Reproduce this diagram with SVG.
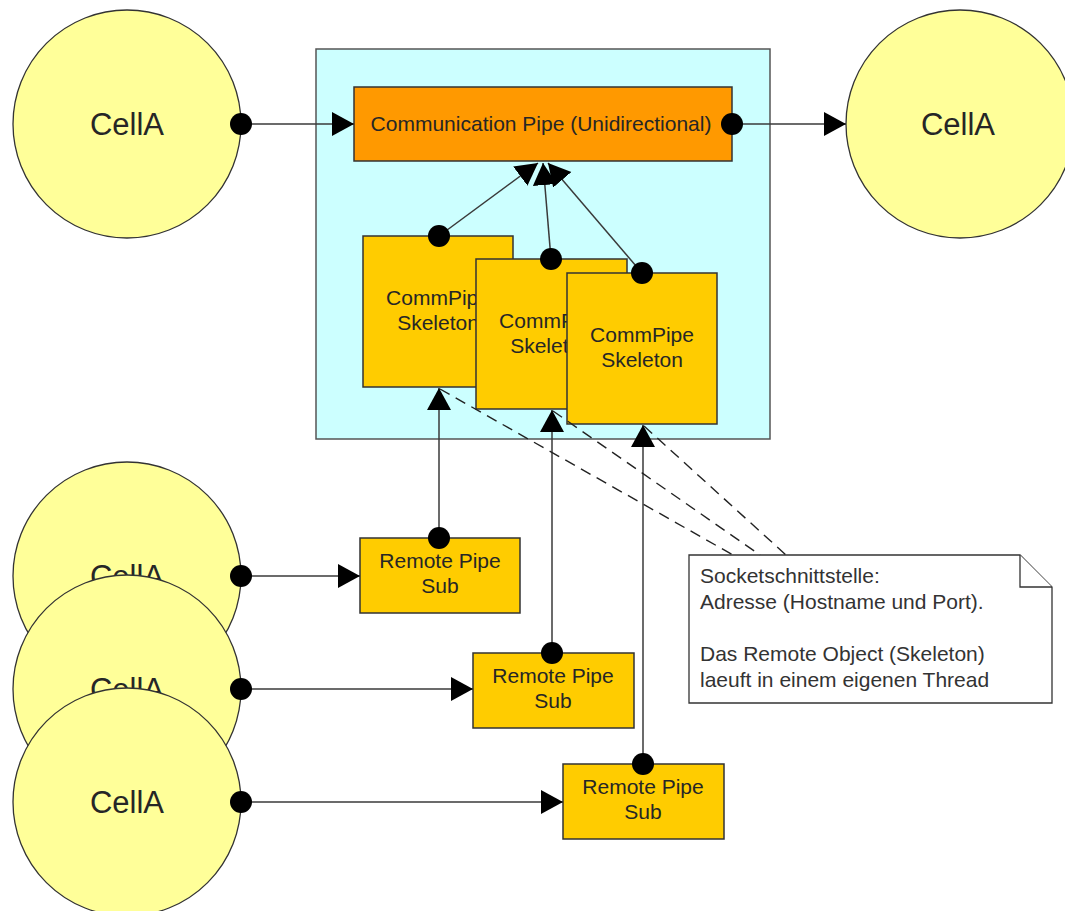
<svg xmlns="http://www.w3.org/2000/svg" width="1065" height="911" viewBox="0 0 1065 911">
  <defs>
    <style>
      text { font-family: "Liberation Sans", Arial, sans-serif; fill: #262626; }
      .cell { fill: #ffff99; stroke: #333; stroke-width: 1.3; }
      .cell-label { font-size: 31px; text-anchor: middle; }
      .box-label { font-size: 21px; text-anchor: middle; }
      .skeleton, .stub { fill: #ffcc00; stroke: #333; stroke-width: 1.5; }
      .pipe { fill: #ff9900; stroke: #333; stroke-width: 1.5; }
      .container { fill: #ccffff; stroke: #555; stroke-width: 1.5; }
      .note { fill: #ffffff; stroke: #333; stroke-width: 1.3; }
      .note-text { font-size: 21px; fill: #333; }
      .link { fill: none; stroke: #3a3a3a; stroke-width: 1.5; }
      .dashed { fill: none; stroke: #222; stroke-width: 1.4; stroke-dasharray: 11 7; }
      .port { fill: #000; }
    </style>
    <marker id="arrow" markerUnits="userSpaceOnUse" markerWidth="24" markerHeight="26" refX="22" refY="12" orient="auto">
      <path d="M0,0 L22,12 L0,24 Z" fill="#000"/>
    </marker>
  </defs>

  <!-- Pipe container -->
  <g id="pipe-container">
    <rect class="container" x="316" y="49" width="454" height="390"/>
  </g>

  <!-- Communication pipe -->
  <g id="comm-pipe">
    <rect class="pipe" x="354" y="87" width="378" height="74"/>
    <text class="box-label" x="541" y="131">Communication Pipe (Unidirectional)</text>
  </g>

  <!-- Skeletons (stacked) -->
  <g id="skeleton-1">
    <rect class="skeleton" x="363" y="236" width="150" height="151"/>
    <text class="box-label" x="438" y="305">CommPipe</text>
    <text class="box-label" x="438" y="330">Skeleton</text>
  </g>
  <g id="skeleton-2">
    <rect class="skeleton" x="476" y="259" width="151" height="150"/>
    <text class="box-label" x="551" y="328">CommPipe</text>
    <text class="box-label" x="551" y="353">Skeleton</text>
  </g>
  <g id="skeleton-3">
    <rect class="skeleton" x="567" y="273" width="150" height="151"/>
    <text class="box-label" x="642" y="342">CommPipe</text>
    <text class="box-label" x="642" y="367">Skeleton</text>
  </g>

  <!-- Cells -->
  <g id="cell-source">
    <circle class="cell" cx="127" cy="124" r="114"/>
    <text class="cell-label" x="127" y="135">CellA</text>
  </g>
  <g id="cell-target">
    <circle class="cell" cx="960" cy="124" r="114"/>
    <text class="cell-label" x="958" y="135">CellA</text>
  </g>
  <g id="cell-1">
    <circle class="cell" cx="127" cy="576" r="114"/>
    <text class="cell-label" x="127" y="587">CellA</text>
  </g>
  <g id="cell-2">
    <circle class="cell" cx="127" cy="689" r="114"/>
    <text class="cell-label" x="127" y="700">CellA</text>
  </g>
  <g id="cell-3">
    <circle class="cell" cx="127" cy="802" r="114"/>
    <text class="cell-label" x="127" y="813">CellA</text>
  </g>

  <!-- Remote stubs -->
  <g id="stub-1">
    <rect class="stub" x="360" y="538" width="160" height="75"/>
    <text class="box-label" x="440" y="568">Remote Pipe</text>
    <text class="box-label" x="440" y="593">Sub</text>
  </g>
  <g id="stub-2">
    <rect class="stub" x="473" y="653" width="161" height="75"/>
    <text class="box-label" x="553" y="683">Remote Pipe</text>
    <text class="box-label" x="553" y="708">Sub</text>
  </g>
  <g id="stub-3">
    <rect class="stub" x="563" y="764" width="161" height="75"/>
    <text class="box-label" x="643" y="794">Remote Pipe</text>
    <text class="box-label" x="643" y="819">Sub</text>
  </g>

  <!-- Note -->
  <g id="note">
    <path class="note" d="M689,555 H1020 L1052,587 V703 H689 Z"/>
    <path class="note" d="M1020,555 V587 H1052" fill="none"/>
    <text class="note-text" x="700" y="583">Socketschnittstelle:</text>
    <text class="note-text" x="700" y="609">Adresse (Hostname und Port).</text>
    <text class="note-text" x="700" y="661">Das Remote Object (Skeleton)</text>
    <text class="note-text" x="700" y="687">laeuft in einem eigenen Thread</text>
  </g>

  <!-- Connectors -->
  <g id="connectors">
    <line class="link" x1="241" y1="124" x2="354" y2="124" marker-end="url(#arrow)"/>
    <line class="link" x1="732" y1="124" x2="846" y2="124" marker-end="url(#arrow)"/>

    <line class="link" x1="439" y1="236" x2="538" y2="163" marker-end="url(#arrow)"/>
    <line class="link" x1="551" y1="259" x2="543" y2="163" marker-end="url(#arrow)"/>
    <line class="link" x1="642" y1="273" x2="548" y2="163" marker-end="url(#arrow)"/>

    <line class="link" x1="439" y1="538" x2="439" y2="388" marker-end="url(#arrow)"/>
    <line class="link" x1="552" y1="653" x2="552" y2="410" marker-end="url(#arrow)"/>
    <line class="link" x1="643" y1="764" x2="643" y2="425" marker-end="url(#arrow)"/>

    <line class="link" x1="241" y1="576" x2="360" y2="576" marker-end="url(#arrow)"/>
    <line class="link" x1="241" y1="689" x2="473" y2="689" marker-end="url(#arrow)"/>
    <line class="link" x1="241" y1="802" x2="563" y2="802" marker-end="url(#arrow)"/>

    <line class="dashed" x1="440" y1="389" x2="733" y2="555"/>
    <line class="dashed" x1="553" y1="411" x2="760" y2="555"/>
    <line class="dashed" x1="644" y1="426" x2="786" y2="555"/>

    <!-- connection ports -->
    <circle class="port" cx="241" cy="124" r="11"/>
    <circle class="port" cx="732" cy="124" r="11"/>
    <circle class="port" cx="439" cy="236" r="11"/>
    <circle class="port" cx="551" cy="259" r="11"/>
    <circle class="port" cx="642" cy="273" r="11"/>
    <circle class="port" cx="439" cy="538" r="11"/>
    <circle class="port" cx="552" cy="653" r="11"/>
    <circle class="port" cx="643" cy="764" r="11"/>
    <circle class="port" cx="241" cy="576" r="11"/>
    <circle class="port" cx="241" cy="689" r="11"/>
    <circle class="port" cx="241" cy="802" r="11"/>
  </g>
</svg>
